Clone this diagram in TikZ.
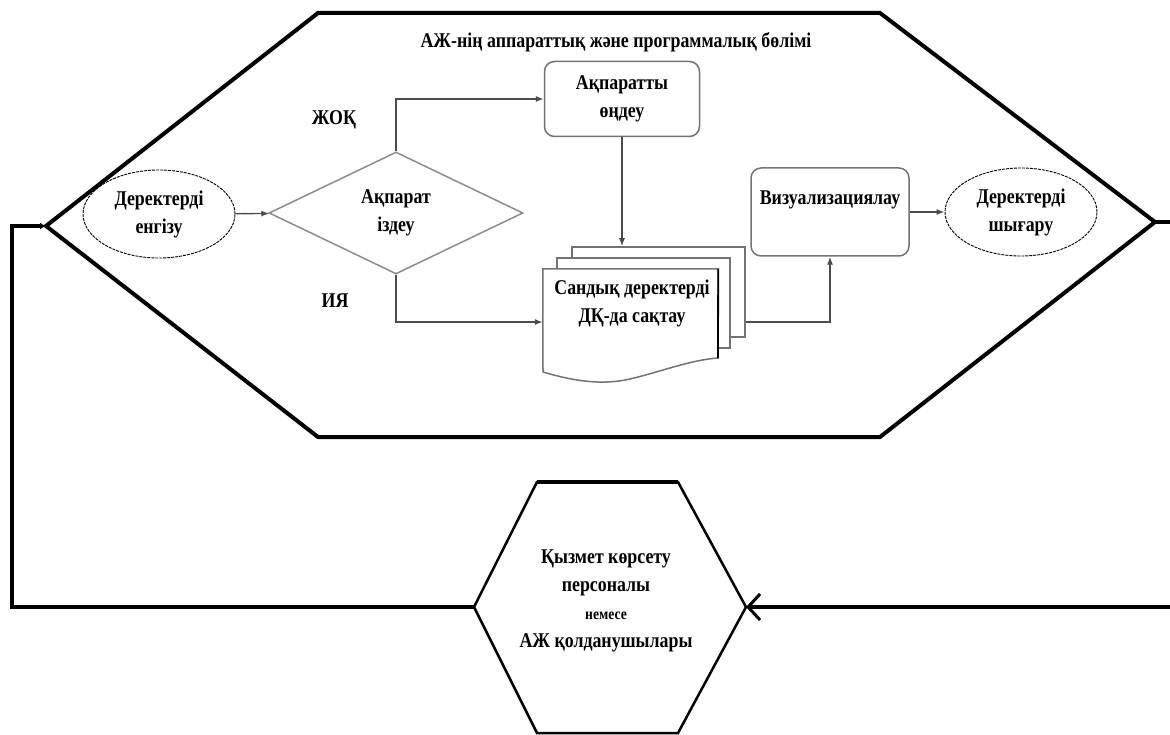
\documentclass[tikz,border=0pt]{standalone}
\usepackage{fontspec}
\setmainfont{Liberation Serif}[FakeStretch=0.85]
\usetikzlibrary{arrows.meta,shapes.geometric}

\begin{document}
\begin{tikzpicture}[x=1pt,y=-1pt,>={Latex[length=8pt,width=6pt]},
  txt/.style={font=\bfseries\fontsize{21}{28}\selectfont,align=center,inner sep=0pt},
  gline/.style={draw=black!70,line width=1.3pt},
  rbox/.style={draw=black!55,line width=1.5pt,rounded corners=10pt,fill=white},
  sheet/.style={draw=black!55,line width=1.5pt,fill=white},
  oval/.style={draw,ellipse,line width=0.9pt,dash pattern=on 3pt off 1pt,inner sep=0pt},
  fb/.style={line width=4pt}]
\useasboundingbox (0,0) rectangle (1170,735);

% outer hexagon
\coordinate (hW) at (46,226);
\coordinate (hE) at (1155,222);
\draw[line width=4pt] (hW)--(318,13)--(880,13)--(hE)--(880,437)--(318,437)--cycle;
\node[txt] (title) at (616,42) {АЖ-нің аппараттық және программалық бөлімі};

% lower hexagon
\coordinate (sW) at (474,607);
\coordinate (sE) at (746,607);
\draw[line width=2.5pt,line join=miter] (sW)--(537,482)--(678,482)--(sE)--(678,733)--(537,733)--cycle;
\draw[line width=4pt] (537,482)--(678,482);
\node[txt] (staff) at (606,601) {Қызмет көрсету\\персоналы\\{\fontsize{16}{16}\selectfont немесе}\\АЖ қолданушылары};

% inner flow
\node[oval,txt,minimum width=152,minimum height=88] (din) at (159,214) {Деректерді\\енгізу};
\node[diamond,draw=black!45,line width=1.5pt,aspect=2,minimum width=254,minimum height=122,txt] (srch) at (396,213) {Ақпарат\\іздеу};
\node[rbox,txt,minimum width=155,minimum height=75] (proc) at (622,99) {Ақпаратты\\өңдеу};
\node[rbox,minimum width=158,minimum height=88] (vis) at (830,212) {};
\node[txt] (visT) at (830,200) {Визуализациялау};
\node[oval,txt,minimum width=152,minimum height=88] (dout) at (1021,212) {Деректерді\\шығару};
\node (no) [txt] at (334,120) {ЖОҚ};
\node (yes) [txt] at (335,301) {ИЯ};

% document stack
\node[sheet,minimum width=173,minimum height=90] (docC) at (658.5,292) {};
\node[sheet,minimum width=173,minimum height=90] (docB) at (643.5,303) {};
\node[minimum width=175,minimum height=106,inner sep=0pt] (docA) at (630.5,322) {};
\filldraw[sheet] (docA.north west)--(docA.north east)--(718,358)
  .. controls (690,360) and (660,372) .. (630,379)
  .. controls (600,386) and (570,380) .. (543,372)--cycle;
\draw[line width=1.8pt] (docA.north east)--(718,358);
\node[txt] (docT) at (632,303) {Сандық деректерді\\ДҚ-да сақтау};

\draw[gline,->] (din) -- (srch);
\draw[gline,->] (srch.north) |- (proc.west);
\draw[gline,->] (srch.south) |- (docA.west);
\draw[gline,->] (proc.south) -- (proc.south |- docC.north);
\draw[gline,->] (docC.east |- docA.west) -| (vis.south);
\draw[gline,->] (vis) -- (dout);

% feedback loop
\draw[fb,-{Latex[length=6pt,width=7pt]}] (sW) -- (12,607) |- (hW);
\draw[fb,-{Straight Barb[length=12pt,width=26pt,line width=3pt]}] (hE) -- (1190,222) -- (1190,607) -- (sE);
\end{tikzpicture}
\end{document}
